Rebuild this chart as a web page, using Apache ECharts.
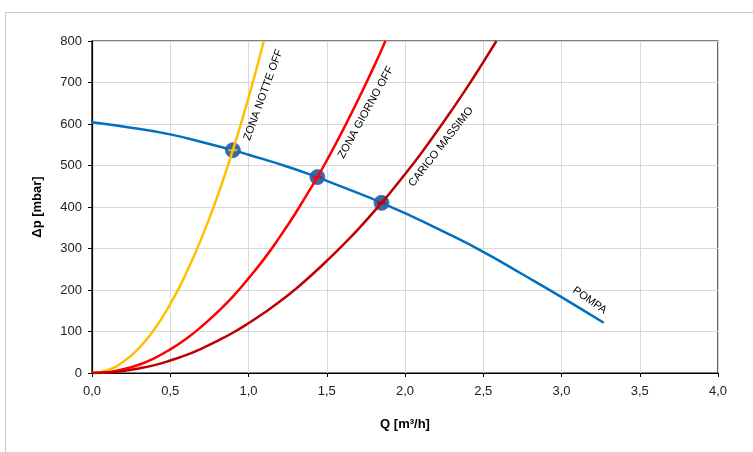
<!DOCTYPE html>
<html><head><meta charset="utf-8">
<script src="https://cdn.jsdelivr.net/npm/echarts@6/dist/echarts.min.js"></script>
<style>html,body{margin:0;padding:0;background:#fff}#c{width:753px;height:452px}</style>
</head><body><div id="c"></div>
<script>
// Pump curve (Q m3/h, dp mbar)
const pumpQ  = [0, 0.25, 0.5, 0.75, 0.9, 1.0, 1.25, 1.44, 1.5, 1.75, 1.85, 2.0, 2.25, 2.5, 2.75, 3.0, 3.27];
const pumpDp = [604, 591, 575, 552, 537, 526, 497, 472, 463, 426, 410, 385, 340, 292, 238, 183, 121];
// System curves
const notteQ  = [0, 0.1, 0.2, 0.3, 0.4, 0.5, 0.6, 0.7, 0.8, 0.9, 1.0, 1.098];
const notteDp = [0, 7, 27, 60, 106, 166, 239, 325, 424, 537, 663, 800];
const giornoQ  = [0, 0.1, 0.2, 0.3, 0.4, 0.5, 0.6, 0.7, 0.8, 0.9, 1.0, 1.1, 1.2, 1.3, 1.44, 1.5, 1.6, 1.7, 1.8, 1.875];
const giornoDp = [0, 2, 9, 20, 36, 57, 82, 112, 146, 184, 228, 275, 328, 385, 472, 512, 583, 658, 737, 800];
const caricoQ  = [0, 0.1, 0.2, 0.3, 0.4, 0.5, 0.6, 0.7, 0.8, 0.9, 1.0, 1.1, 1.2, 1.3, 1.4, 1.5, 1.6, 1.7, 1.85, 1.9, 2.0, 2.1, 2.2, 2.3, 2.4, 2.5, 2.584];
const caricoDp = [0, 1, 5, 11, 19, 30, 43, 59, 77, 97, 120, 145, 172, 202, 235, 270, 307, 346, 410, 432, 479, 528, 580, 634, 690, 749, 800];
// Operating points
const opQ  = [0.9, 1.44, 1.85];
const opDp = [537, 472, 410];
const opColors = ['#FFC000', '#FF0000', '#C00000'];
// Labels
const xTicks = ['0,0','0,5','1,0','1,5','2,0','2,5','3,0','3,5','4,0'];

const zip = (a, b) => a.map((v, i) => [v, b[i]]);
const FONT = '"Liberation Sans Narrow", "Liberation Sans", sans-serif';

const chart = echarts.init(document.getElementById('c'), null, {renderer: 'canvas'});
const lineS = (name, q, dp, color) => ({
  type: 'line', name, data: zip(q, dp), smooth: true, showSymbol: false, z: 3,
  lineStyle: {color, width: 2.5}, itemStyle: {color}, clip: true
});
chart.setOption({
  animation: false,
  grid: {left: 92, right: 35, top: 41, bottom: 79, show: true, borderColor: '#000', borderWidth: 1.2},
  xAxis: {
    type: 'value', min: 0, max: 4, interval: 0.5,
    name: 'Q [m³/h]', nameLocation: 'middle', nameGap: 45,
    nameTextStyle: {fontFamily: FONT, fontSize: 13, fontWeight: 'bold', color: '#000'},
    axisLine: {onZero: false, lineStyle: {color: '#000', width: 1.2}},
    axisTick: {show: true, length: 4, lineStyle: {color: '#000'}},
    axisLabel: {fontFamily: FONT, fontSize: 13, color: '#222', margin: 12,
      formatter: v => xTicks[Math.round(v / 0.5)]},
    splitLine: {lineStyle: {color: '#D9D9D9', width: 1}}
  },
  yAxis: {
    type: 'value', min: 0, max: 800, interval: 100,
    name: 'Δp [mbar]', nameLocation: 'middle', nameGap: 48,
    nameTextStyle: {fontFamily: FONT, fontSize: 13, fontWeight: 'bold', color: '#000'},
    axisLine: {show: true, lineStyle: {color: '#000', width: 1.2}},
    axisTick: {show: true, length: 4, lineStyle: {color: '#000'}},
    axisLabel: {fontFamily: FONT, fontSize: 13, color: '#222', margin: 10},
    splitLine: {lineStyle: {color: '#D9D9D9', width: 1}}
  },
  series: [
    lineS('POMPA', pumpQ, pumpDp, '#0070C0'),
    lineS('ZONA NOTTE OFF', notteQ, notteDp, '#FFC000'),
    lineS('ZONA GIORNO OFF', giornoQ, giornoDp, '#FF0000'),
    lineS('CARICO MASSIMO', caricoQ, caricoDp, '#C00000'),
    {type: 'scatter', data: zip(opQ, opDp), symbol: 'circle', symbolSize: 15, z: 2,
      itemStyle: {color: '#2F5597', borderColor: '#4472C4', borderWidth: 1, opacity: 0.9}},
    {type: 'scatter', data: opQ.map((q, i) => ({value: [q, opDp[i]], itemStyle: {color: opColors[i]}})),
      symbol: 'rect', symbolSize: [9, 2.5], z: 4}
  ]
});
// Curve labels anchored to data positions
const labels = [
  {t: 'ZONA NOTTE OFF', q: 1.095, dp: 670, rot: 70},
  {t: 'ZONA GIORNO OFF', q: 1.75, dp: 628, rot: 61},
  {t: 'CARICO MASSIMO', q: 2.23, dp: 545, rot: 52},
  {t: 'POMPA', q: 3.18, dp: 175, rot: -35}
];
const gfx = [{type: 'rect', id: 'frame', shape: {x: 5.5, y: 12.5, width: 800, height: 500},
  style: {fill: 'none', stroke: '#C8C8C8', lineWidth: 1}, z: -1, silent: true}];
labels.forEach((l, i) => {
  const p = chart.convertToPixel({gridIndex: 0}, [l.q, l.dp]);
  gfx.push({type: 'text', id: 'lbl' + i, x: p[0], y: p[1], rotation: l.rot * Math.PI / 180, z: 10,
    style: {text: l.t, fontFamily: FONT, fontSize: 11, fill: '#000', align: 'center', verticalAlign: 'middle'}});
});
chart.setOption({graphic: gfx});
</script></body></html>
